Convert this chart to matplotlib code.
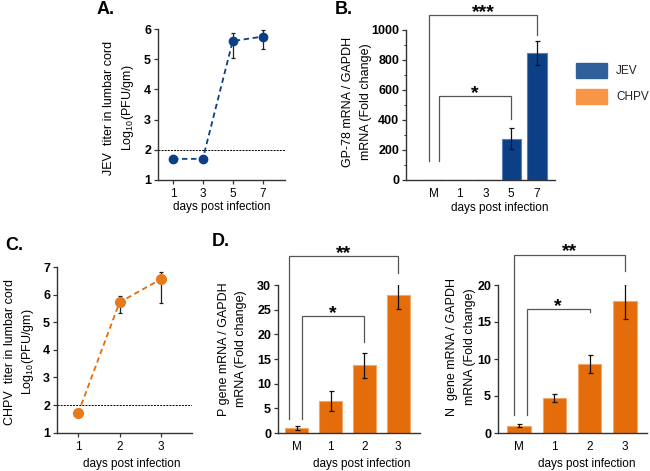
import numpy as np
import matplotlib
matplotlib.use("Agg")
import matplotlib.pyplot as plt
from matplotlib.patches import Rectangle

plt.rcParams['font.family'] = ['Liberation Sans', 'DejaVu Sans']
plt.rcParams['mathtext.default'] = 'regular'

# --- data ---
jev_days = [1, 3, 5, 7]
jev_titer = [1.7, 1.7, 5.6, 5.75]
jev_titer_lo = [0, 0, 0.55, 0.40]
jev_titer_hi = [0, 0, 0.28, 0.22]

gp78_labels = ["M", "1", "3", "5", "7"]
gp78_fold = [0, 0, 0, 275, 845]
gp78_err = [0, 0, 0, 70, 80]

chpv_days = [1, 2, 3]
chpv_titer = [1.7, 5.72, 6.56]
chpv_titer_lo = [0, 0.39, 0.86]
chpv_titer_hi = [0, 0.23, 0.26]

chpv_labels = ["M", "1", "2", "3"]
p_gene_fold = [1.0, 6.5, 13.7, 28.0]
p_gene_err = [0.4, 2.0, 2.6, 2.9]
n_gene_fold = [1.0, 4.75, 9.3, 17.8]
n_gene_err = [0.25, 0.55, 1.25, 2.4]

detection_limit = 2

# significance brackets: (x left, x right, top, left foot, right foot, label)
gp78_sig = [(-0.2, 4, 1100, 127, 967, "***"), (0.2, 3, 560, 127, 407, "*")]
p_gene_sig = [(-0.24, 3, 35.9, 2.9, 32.5, "**"), (0.15, 2, 23.7, 2.9, 18.5, "*")]
n_gene_sig = [(-0.15, 3, 24.1, 2.5, 21.9, "**"), (0.22, 2, 16.7, 2.5, 16.3, "*")]

BLUE = "#0c3f86"
ORANGE = "#e46c0a"
W, H = 650, 471


def add_ax(fig, left, top, right, bottom):
    ax = fig.add_axes([left / W, 1 - bottom / H, (right - left) / W, (bottom - top) / H])
    for s in ("top", "right"):
        ax.spines[s].set_visible(False)
    for s in ("left", "bottom"):
        ax.spines[s].set_linewidth(1.0)
        ax.spines[s].set_color("#333333")
    ax.tick_params(axis="y", labelsize=9, length=3, width=0.9, pad=2, color="#333333")
    ax.tick_params(axis="x", labelsize=8.5, length=3, width=0.9, pad=3, color="#333333")
    return ax


def bold_y(ax):
    for t in ax.get_yticklabels():
        t.set_fontweight("bold")


def ylab(fig, lines, xs, yc, size=9):
    for txt, x in zip(lines, xs):
        fig.text(x / W, 1 - yc / H, txt, rotation=90, ha="center", va="center", fontsize=size)


def xlab(fig, x, y, txt="days post infection"):
    fig.text(x / W, 1 - y / H, txt, ha="center", va="center", fontsize=8.5)


def brackets(ax, sig):
    for x1, x2, top, f1, f2, lab in sig:
        ax.plot([x1, x1, x2, x2], [f1, top, top, f2], color="#555555", lw=0.9,
                clip_on=False, solid_joinstyle="miter")
        ax.annotate(lab, xy=((x1 + x2) / 2, top), xytext=(0, 2), textcoords="offset points",
                    ha="center", va="center", fontsize=14, fontweight="bold", annotation_clip=False)


def bars(ax, labels, vals, err, color, edge, width):
    x = np.arange(len(labels))
    ax.bar(x, vals, width=width, color=color, edgecolor=edge, linewidth=0.8, zorder=2)
    err = np.asarray(err, float)
    m = err > 0
    ax.errorbar(x[m], np.asarray(vals)[m], yerr=err[m], fmt="none", ecolor="#111111",
                elinewidth=0.9, capsize=1.8, capthick=0.9, zorder=3)
    ax.set_xticks(x)
    ax.set_xticklabels(labels)
    ax.tick_params(axis="x", length=0, pad=6)
    return x


fig = plt.figure(figsize=(6.5, 4.71), dpi=100)

# A. JEV titer
axA = add_ax(fig, 158, 29, 285, 180)
axA.axhline(detection_limit, color="black", ls=(0, (2, 1.2)), lw=0.7, zorder=1)
axA.errorbar(jev_days, jev_titer, yerr=[jev_titer_lo, jev_titer_hi], fmt="o", color=BLUE,
             ls=(0, (3, 2)), lw=1.3, ms=6, ecolor="#222222", elinewidth=0.9, capsize=1.6,
             capthick=0.9, zorder=3)
axA.set_xlim(0, 8.5)
axA.set_ylim(1, 6)
axA.set_xticks(jev_days)
axA.set_yticks(range(1, 7))
bold_y(axA)
ylab(fig, ["JEV  titer in lumbar cord", "Log$_{10}$(PFU/gm)"], [109, 128], 108)
xlab(fig, 222, 207)
fig.text(97 / W, 1 - 10 / H, "A.", fontsize=13, fontweight="bold", va="center")

# B. GP-78
axB = add_ax(fig, 406, 30, 555, 180)
bars(axB, gp78_labels, gp78_fold, gp78_err, BLUE, "#5a7fb8", 0.74)
axB.set_xlim(-1.09, 4.7)
axB.set_ylim(0, 1000)
axB.set_yticks(range(0, 1001, 200))
axB.set_yticks(range(100, 1000, 200), minor=True)
axB.tick_params(axis="y", which="minor", length=1.5, width=0.6)
bold_y(axB)
brackets(axB, gp78_sig)
ylab(fig, ["GP-78 mRNA / GAPDH", "mRNA (Fold change)"], [348, 366], 102)
xlab(fig, 500, 208)
fig.text(335 / W, 1 - 10 / H, "B.", fontsize=13, fontweight="bold", va="center")

# legend
for i, (lab, col) in enumerate([("JEV", "#2f5f98"), ("CHPV", "#f79646")]):
    y0 = 63 + i * 26
    fig.add_artist(Rectangle((576 / W, 1 - (y0 + 15) / H), 31 / W, 15 / H,
                             transform=fig.transFigure, color=col))
    fig.text(616 / W, 1 - (y0 + 7.5) / H, lab, fontsize=8.5, va="center", color="#222222")

# C. CHPV titer
axC = add_ax(fig, 57, 267, 192, 432.6)
axC.axhline(detection_limit, color="black", ls=(0, (2, 1.2)), lw=0.7, zorder=1)
axC.errorbar(chpv_days, chpv_titer, yerr=[chpv_titer_lo, chpv_titer_hi], fmt="o",
             color=ORANGE, mfc="#e87a1e", mec="#e87a1e", ls=(0, (3, 2)), lw=1.3, ms=7,
             ecolor="#222222", elinewidth=0.9, capsize=1.6, capthick=0.9, zorder=3)
axC.set_xlim(0.49, 3.75)
axC.set_ylim(1, 7)
axC.set_xticks(chpv_days)
axC.set_yticks(range(1, 8))
bold_y(axC)
ylab(fig, ["CHPV  titer in lumbar cord", "Log$_{10}$(PFU/gm)"], [10, 28], 352)
xlab(fig, 132, 464)
fig.text(5 / W, 1 - 245 / H, "C.", fontsize=13, fontweight="bold", va="center")

# D. P gene
axD1 = add_ax(fig, 278, 285, 420, 433)
bars(axD1, chpv_labels, p_gene_fold, p_gene_err, ORANGE, "#f2a86a", 0.68)
axD1.set_xlim(-0.56, 3.65)
axD1.set_ylim(0, 30)
axD1.set_yticks(range(0, 31, 5))
bold_y(axD1)
brackets(axD1, p_gene_sig)
ylab(fig, ["P gene mRNA / GAPDH", "mRNA (Fold change)"], [224, 241], 349)
xlab(fig, 362, 464)
fig.text(212 / W, 1 - 242 / H, "D.", fontsize=13, fontweight="bold", va="center")

# D. N gene
axD2 = add_ax(fig, 498, 285, 647, 433)
bars(axD2, chpv_labels, n_gene_fold, n_gene_err, ORANGE, "#f2a86a", 0.66)
axD2.set_xlim(-0.59, 3.62)
axD2.set_ylim(0, 20)
axD2.set_yticks(range(0, 21, 5))
bold_y(axD2)
brackets(axD2, n_gene_sig)
ylab(fig, ["N  gene mRNA / GAPDH", "mRNA (Fold change)"], [452, 470], 347)
xlab(fig, 587, 464)

fig.savefig("out.png", dpi=100)
